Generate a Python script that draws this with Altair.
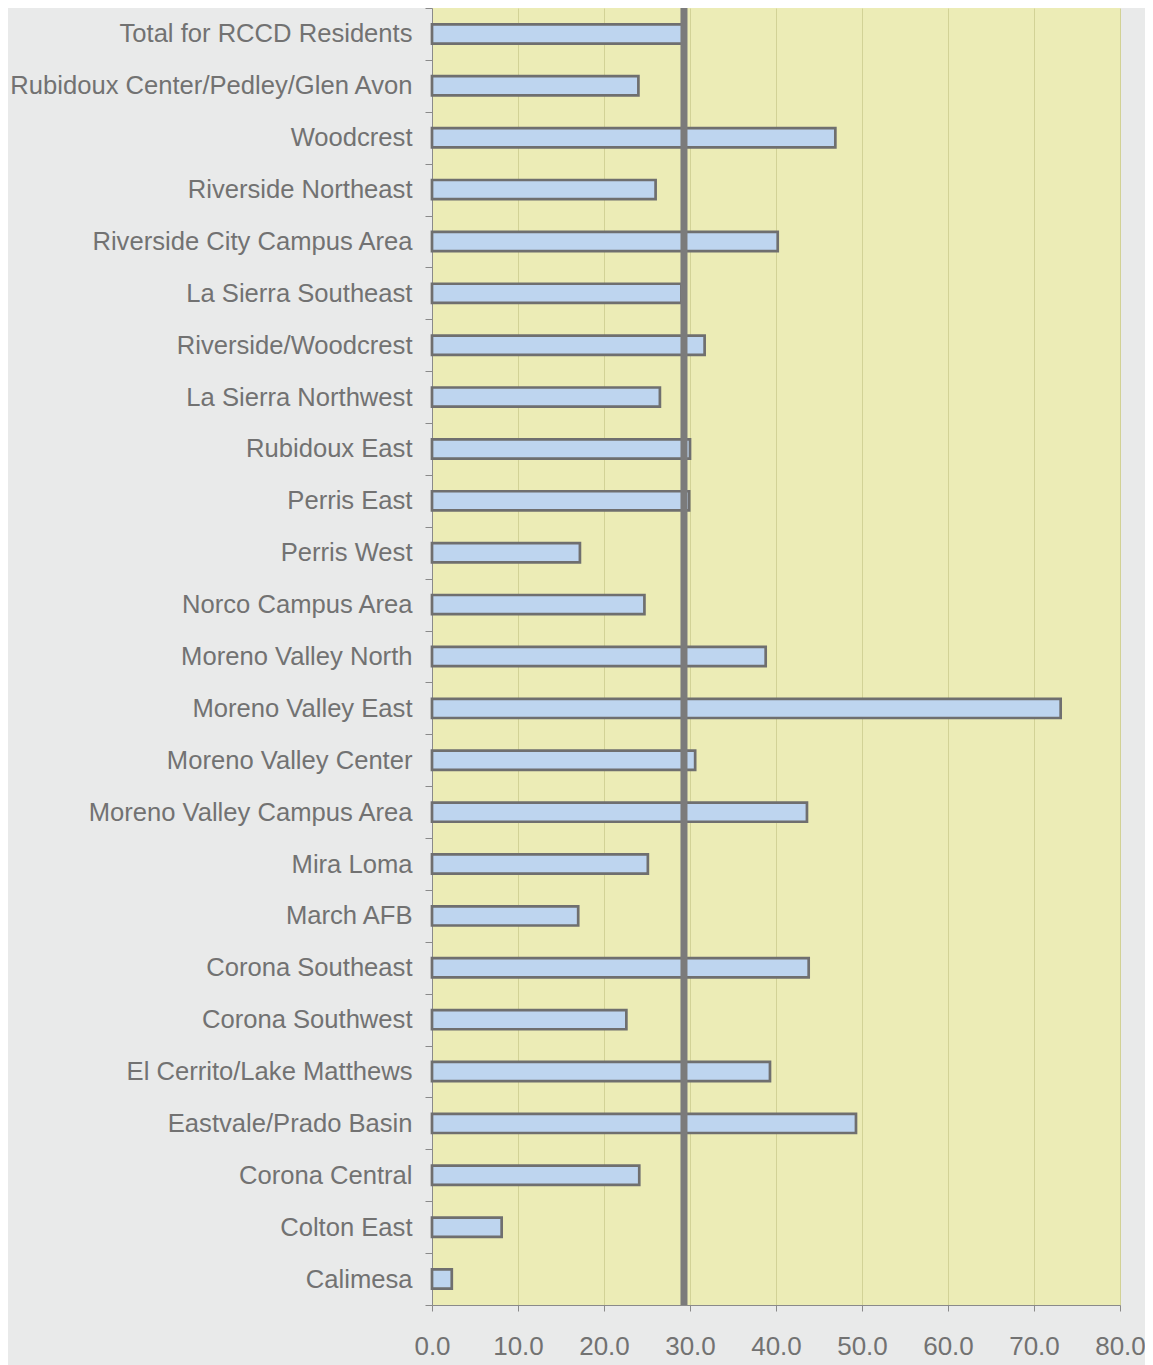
import altair as alt
import pandas as pd

categories = [
    "Total for RCCD Residents",
    "Rubidoux Center/Pedley/Glen Avon",
    "Woodcrest",
    "Riverside Northeast",
    "Riverside City Campus Area",
    "La Sierra Southeast",
    "Riverside/Woodcrest",
    "La Sierra Northwest",
    "Rubidoux East",
    "Perris East",
    "Perris West",
    "Norco Campus Area",
    "Moreno Valley North",
    "Moreno Valley East",
    "Moreno Valley Center",
    "Moreno Valley Campus Area",
    "Mira Loma",
    "March AFB",
    "Corona Southeast",
    "Corona Southwest",
    "El Cerrito/Lake Matthews",
    "Eastvale/Prado Basin",
    "Corona Central",
    "Colton East",
    "Calimesa",
]
values = [
    29.3, 24.0, 46.9, 26.0, 40.2, 29.0, 31.7, 26.5, 30.0, 29.9,
    17.2, 24.7, 38.8, 73.1, 30.6, 43.6, 25.1, 17.0, 43.8, 22.6,
    39.3, 49.3, 24.1, 8.1, 2.3,
]
reference_value = [29.3]
x_ticks = [0, 10, 20, 30, 40, 50, 60, 70, 80]

df = pd.DataFrame({"area": categories, "value": values})
ref = pd.DataFrame({"ref": reference_value})

TEXT = "#727272"
AXIS = "#8a8a8a"

bars = alt.Chart(df).mark_bar(
    height=alt.RelativeBandSize(0.37),
    fill="#bed5ef",
    stroke="#6f6f6f",
    strokeWidth=2.7,
).encode(
    x=alt.X(
        "value:Q",
        scale=alt.Scale(domain=[0, 80], nice=False),
        axis=alt.Axis(
            values=x_ticks,
            format=".1f",
            title=None,
            grid=True,
            gridColor="#d2d296",
            gridWidth=1,
            domainColor=AXIS,
            tickColor=AXIS,
            tickSize=6,
            labelFontSize=26,
            labelFont="Liberation Sans",
            labelColor=TEXT,
            labelPadding=22,
            labelFlush=False,
        ),
    ),
    y=alt.Y(
        "area:N",
        sort=categories,
        scale=alt.Scale(paddingInner=0, paddingOuter=0),
        axis=alt.Axis(
            title=None,
            tickBand="extent",
            tickSize=7,
            tickColor=AXIS,
            domainColor=AXIS,
            labelFontSize=25.6,
            labelFont="Liberation Sans",
            labelColor=TEXT,
            labelPadding=13,
            labelLimit=600,
            grid=False,
        ),
    ),
)

rule = alt.Chart(ref).mark_rule(color="#7b7b7b", strokeWidth=7).encode(
    x=alt.X("ref:Q")
)

chart = (
    alt.layer(bars, rule)
    .properties(
        width=688,
        height=1297,
        autosize=alt.AutoSizeParams(type="none"),
        padding={"left": 424, "top": 0, "right": 25, "bottom": 60},
        background="#e9eaea",
    )
    .configure_view(fill="#ececb6", stroke=None)
)

chart.save("out.html", embed_options={"renderer": "svg", "actions": False})
